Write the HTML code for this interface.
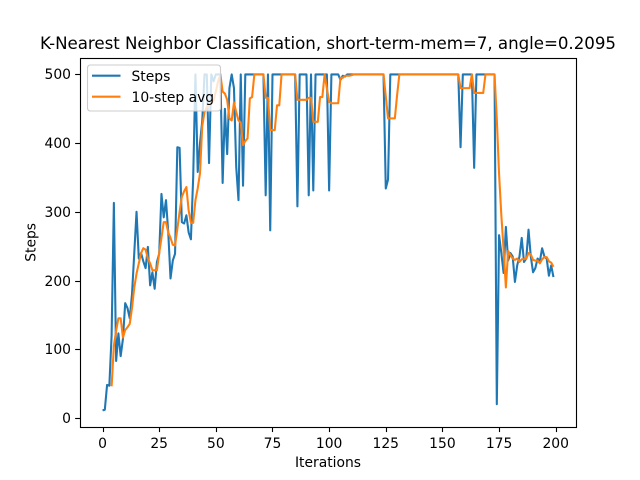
<!DOCTYPE html>
<html>
<head>
<meta charset="utf-8">
<title>K-Nearest Neighbor Classification</title>
<style>
html,body{margin:0;padding:0;background:#fff;}
svg{display:block;}
text{font-family:"DejaVu Sans","Liberation Sans",sans-serif;fill:#000;}
</style>
</head>
<body>
<svg id="chart" xmlns="http://www.w3.org/2000/svg" width="640" height="480" viewBox="0 0 640 480">
<rect x="0" y="0" width="640" height="480" fill="#fff"/>
<g id="marks"></g>
<g id="axes"></g>
<text x="328" y="49" font-size="16.67" text-anchor="middle" textLength="576" lengthAdjust="spacing">K-Nearest Neighbor Classification, short-term-mem=7, angle=0.2095</text>
<text x="328" y="467" font-size="13.89" text-anchor="middle">Iterations</text>
<text x="0" y="0" font-size="13.89" text-anchor="middle" transform="translate(35.5 242.4) rotate(-90)">Steps</text>
<g>
<rect x="87.5" y="65" width="133" height="46" rx="2.8" ry="2.8" fill="#fff" fill-opacity="0.8" stroke="#ccc" stroke-width="1.11"/>
<line x1="92" y1="75.7" x2="120.5" y2="75.7" stroke="#1f77b4" stroke-width="2.08"/>
<text x="131.5" y="81" font-size="13.89">Steps</text>
<line x1="92" y1="96.7" x2="120.5" y2="96.7" stroke="#ff7f0e" stroke-width="2.08"/>
<text x="131.5" y="102" font-size="13.89">10-step avg</text>
</g>
</svg>
<script>
const steps = [
11,12,48,47,120,313,83,123,90,115,
167,160,145,180,240,300,232,240,228,218,
249,193,212,188,227,239,326,292,317,270,
203,229,239,394,393,285,283,295,270,260,
350,500,358,400,432,500,500,371,500,490,
500,500,500,342,450,384,480,500,480,365,
317,500,338,500,500,500,500,500,500,500,
500,500,324,500,273,500,500,500,500,500,
500,500,500,500,500,500,308,500,500,500,
500,324,500,331,500,500,500,500,500,500,
331,500,500,500,500,492,498,497,500,500,
500,500,500,500,500,500,500,500,500,500,
500,500,500,500,500,334,347,500,500,500,
500,500,500,500,500,500,500,500,500,500,
500,500,500,500,500,500,500,500,500,500,
500,500,500,500,500,500,500,500,394,500,
500,500,500,500,364,500,500,500,500,500,
500,500,500,500,20,266,240,211,278,229,
240,235,198,222,235,262,227,232,274,235,
212,218,232,228,247,235,232,207,222,205
];
const avgSteps = [
null,null,null,null,46,105,127,145,145,117,
128,132,137,160,190,210,225,240,247,245,
232,225,215,215,215,240,262,285,285,270,
262,252,251,275,300,322,330,336,302,284,
284,317,334,356,425,445,452,456,458,462,
475,490,500,475,472,463,436,433,459,445,
433,430,397,403,407,465,467,500,500,500,
500,500,466,466,419,419,419,455,455,500,
500,500,500,500,500,500,463,463,463,463,
463,466,466,431,431,431,467,467,500,480,
460,458,458,458,458,495,495,498,498,498,
499,500,500,500,500,500,500,500,500,500,
500,500,500,500,500,468,436,436,436,436,
470,500,500,500,500,500,500,500,500,500,
500,500,500,500,500,500,500,500,500,500,
500,500,500,500,500,500,500,500,480,480,
480,480,480,500,473,473,473,473,473,500,
500,500,500,500,435,355,295,245,190,243,
237,232,230,232,227,231,231,232,240,238,
230,229,229,225,231,234,234,228,226,220
];
const xTicks = [0,25,50,75,100,125,150,175,200];
const yTicks = [0,100,200,300,400,500];

const svgNS = 'http://www.w3.org/2000/svg';
const plot = {left:80, right:576, top:57.6, bottom:427.2};
const xMin = 0, xMax = steps.length - 1;
const allVals = steps.concat(avgSteps.filter(function(v){return v !== null;}));
const yMin = Math.min.apply(null, allVals), yMax = Math.max.apply(null, allVals);
const xPad = (xMax - xMin) * 0.05, yPad = (yMax - yMin) * 0.05;

function xScale(v){
  return plot.left + (v - (xMin - xPad)) / ((xMax - xMin) + 2 * xPad) * (plot.right - plot.left);
}
function yScale(v){
  return plot.bottom - (v - (yMin - yPad)) / ((yMax - yMin) + 2 * yPad) * (plot.bottom - plot.top);
}
function snap(v){
  return Math.floor(v + 0.5) + 0.5;
}
function pathFor(values){
  let d = '';
  values.forEach(function(v, i){
    if (v === null) return;
    d += (d ? 'L' : 'M') + xScale(i).toFixed(2) + ' ' + yScale(v).toFixed(2);
  });
  return d;
}

const marks = document.getElementById('marks');
const axes = document.getElementById('axes');

const stepsLine = document.createElementNS(svgNS, 'path');


stepsLine.setAttribute('d', pathFor(steps));
stepsLine.setAttribute('fill', 'none');
stepsLine.setAttribute('stroke', '#1f77b4');
stepsLine.setAttribute('stroke-width', '2.08');
stepsLine.setAttribute('stroke-linejoin', 'round');
marks.appendChild(stepsLine);

const avgLine = document.createElementNS(svgNS, 'path');


avgLine.setAttribute('d', pathFor(avgSteps));
avgLine.setAttribute('fill', 'none');
avgLine.setAttribute('stroke', '#ff7f0e');
avgLine.setAttribute('stroke-width', '2.08');
avgLine.setAttribute('stroke-linejoin', 'round');
marks.appendChild(avgLine);

const frame = document.createElementNS(svgNS, 'rect');


frame.setAttribute('x', snap(plot.left));
frame.setAttribute('y', snap(plot.top));
frame.setAttribute('width', snap(plot.right) - snap(plot.left));
frame.setAttribute('height', snap(plot.bottom) - snap(plot.top));
frame.setAttribute('fill', 'none');
frame.setAttribute('stroke', '#000');
frame.setAttribute('stroke-width', '1.11');
axes.appendChild(frame);

xTicks.forEach(function(t){
  const x = xScale(t);
  const tick = document.createElementNS(svgNS, 'line');
  
  
  tick.setAttribute('x1', snap(x));
  tick.setAttribute('x2', snap(x));
  tick.setAttribute('y1', snap(plot.bottom));
  tick.setAttribute('y2', plot.bottom + 4.86);
  tick.setAttribute('stroke', '#000');
  tick.setAttribute('stroke-width', '1.11');
  axes.appendChild(tick);
  const label = document.createElementNS(svgNS, 'text');
  
  
  label.setAttribute('x', x);
  label.setAttribute('y', 448);
  label.setAttribute('font-size', '13.89');
  label.setAttribute('text-anchor', 'middle');
  label.textContent = String(t);
  axes.appendChild(label);
});

yTicks.forEach(function(t){
  const y = yScale(t);
  const tick = document.createElementNS(svgNS, 'line');
  
  
  tick.setAttribute('x1', plot.left - 4.86);
  tick.setAttribute('x2', snap(plot.left));
  tick.setAttribute('y1', snap(y));
  tick.setAttribute('y2', snap(y));
  tick.setAttribute('stroke', '#000');
  tick.setAttribute('stroke-width', '1.11');
  axes.appendChild(tick);
  const label = document.createElementNS(svgNS, 'text');
  
  
  label.setAttribute('x', plot.left - 9);
  label.setAttribute('y', Math.round(y) + 5);
  label.setAttribute('font-size', '13.89');
  label.setAttribute('text-anchor', 'end');
  label.textContent = String(t);
  axes.appendChild(label);
});
</script>
</body>
</html>
